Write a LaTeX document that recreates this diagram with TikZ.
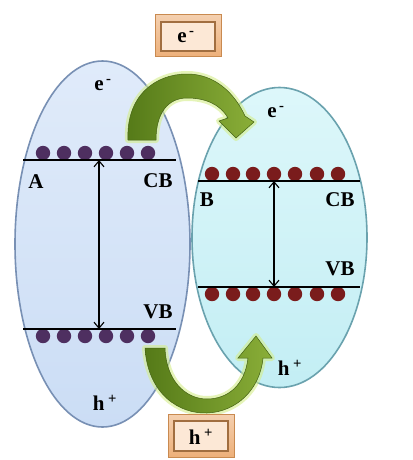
\documentclass[tikz,border=0pt]{standalone}
\usepackage{fontspec}
\setmainfont{Liberation Serif}
\usetikzlibrary{shapes.geometric,arrows.meta}
\definecolor{ellA}{HTML}{CBDDF5}
\definecolor{ellAtop}{HTML}{E0EBFA}
\definecolor{ellAline}{HTML}{7890B4}
\definecolor{ellB}{HTML}{C3EEF4}
\definecolor{ellBtop}{HTML}{DDF7FA}
\definecolor{ellBline}{HTML}{6AA2AE}
\definecolor{dotA}{HTML}{4E2F60}
\definecolor{dotB}{HTML}{7A1C1C}
\definecolor{arrDark}{HTML}{557A18}
\definecolor{arrLight}{HTML}{8AAE38}
\definecolor{glow}{HTML}{D4EE8A}
\definecolor{plateOut}{HTML}{EDB07A}
\definecolor{plateLine}{HTML}{C98A50}
\definecolor{plateIn}{HTML}{FCE8D6}
\tikzset{
  lbl/.style={font=\fontsize{21}{21}\selectfont\bfseries, inner sep=0pt},
  band/.style={line width=1.8pt, black},
  gap/.style={line width=1.1pt, black, {Straight Barb[length=6pt,width=10pt]}-{Straight Barb[length=6pt,width=10pt]}},
  greenarrow/.style={left color=arrDark, right color=arrLight, draw=arrDark!80!black, line width=0.5pt,
    preaction={draw=glow, line width=6pt, opacity=0.6, line join=round}},
  plate/.style={top color=plateOut!60!white, bottom color=plateOut, draw=plateLine, line width=1pt},
  plateinner/.style={fill=plateIn, draw=plateLine!80!black, line width=1.2pt},
}
\begin{document}
\begin{tikzpicture}[x=1pt,y=-1pt]
\useasboundingbox (0,0) rectangle (412,460);
\fill[white] (0,0) rectangle (412,460);

% ellipses
\node[ellipse, draw=ellAline, line width=1.6pt, top color=ellAtop, bottom color=ellA,
      minimum width=175pt, minimum height=366pt, inner sep=0pt] (EA) at (102.5,244) {};
\node[ellipse, draw=ellBline, line width=1.6pt, top color=ellBtop, bottom color=ellB,
      minimum width=175pt, minimum height=300pt, inner sep=0pt] (EB) at (279.5,237.5) {};

% left bands
\coordinate (aCBl) at (23,160); \coordinate (aCBr) at (176,160);
\coordinate (aVBl) at (23,329); \coordinate (aVBr) at (176,329);
\foreach \x in {43,64,85,106,127,148} {
  \fill[dotA] (\x,153) circle (7.2pt);
  \fill[dotA] (\x,336) circle (7.2pt);
}
\draw[band] (aCBl) -- (aCBr);
\draw[band] (aVBl) -- (aVBr);
\coordinate (aTop) at (99,160); \coordinate (aBot) at (99,329);
\draw[gap] (aTop) -- (aBot);

% right bands
\coordinate (bCBl) at (198,181); \coordinate (bCBr) at (360,181);
\coordinate (bVBl) at (198,287); \coordinate (bVBr) at (360,287);
\foreach \x in {212,233,253,274,295,317,338} {
  \fill[dotB] (\x,174) circle (7.2pt);
  \fill[dotB] (\x,294) circle (7.2pt);
}
\draw[band] (bCBl) -- (bCBr);
\draw[band] (bVBl) -- (bVBr);
\coordinate (bTop) at (274,181); \coordinate (bBot) at (274,287);
\draw[gap] (bTop) -- (bBot);

% labels
\node[lbl] (eA) at (103,85) {e\textsuperscript{\,-}};
\node[lbl] (lA) at (36,182) {A};
\node[lbl] (cbA) at (158,181) {CB};
\node[lbl] (vbA) at (158,312) {VB};
\node[lbl] (hA) at (105,403) {h\,\textsuperscript{+}};
\node[lbl] (eB) at (276,112) {e\textsuperscript{\,-}};
\node[lbl] (lB) at (207,200) {B};
\node[lbl] (cbB) at (340,200) {CB};
\node[lbl] (vbB) at (340,269) {VB};
\node[lbl] (hB) at (290,368) {h\,\textsuperscript{+}};

% top green arrow
\path[greenarrow] (128,140) .. controls (126,96) and (155,74) .. (187,74)
  .. controls (214,74) and (234,92) .. (245,116) -- (254,122) -- (236,138) -- (219,121) -- (228,118)
  .. controls (220,104) and (205,98) .. (187,98)
  .. controls (168,98) and (156,113) .. (156,140) -- cycle;

% bottom green arrow
\path[greenarrow] (145,348) .. controls (148,395) and (180,414) .. (207,413)
  .. controls (236,412) and (260,390) .. (263,358) -- (272,358) -- (256,336) -- (238,358) -- (248,358)
  .. controls (245,385) and (228,399) .. (207,399)
  .. controls (185,399) and (166,380) .. (165,348) -- cycle;

% plates
\draw[plate] (155,15) rectangle (221,57);
\draw[plateinner] (161,22) rectangle (215,51);
\node[lbl] (pe) at (186,37) {e\textsuperscript{\,-}};
\draw[plate] (168,414) rectangle (234,457);
\draw[plateinner] (174,421) rectangle (228,451);
\node[lbl] (ph) at (201,437) {h\,\textsuperscript{+}};
\end{tikzpicture}
\end{document}
